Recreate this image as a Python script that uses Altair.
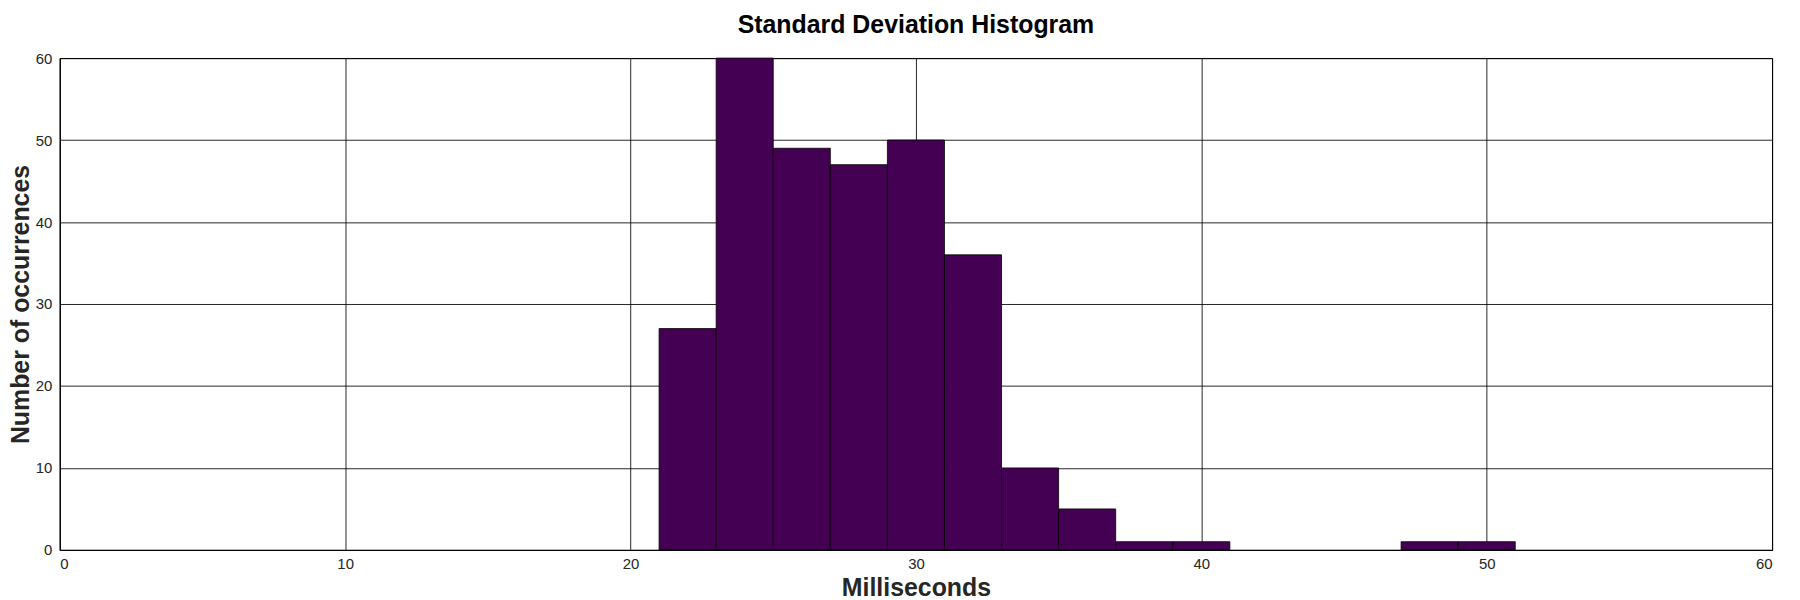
import altair as alt
import pandas as pd

bin_start = [21, 23, 25, 27, 29, 31, 33, 35, 37, 39, 47, 49]
bin_end = [23, 25, 27, 29, 31, 33, 35, 37, 39, 41, 49, 51]
counts = [27, 60, 49, 47, 50, 36, 10, 5, 1, 1, 1, 1]
ticks = [0, 10, 20, 30, 40, 50, 60]

df = pd.DataFrame({"start": bin_start, "end": bin_end, "count": counts})

chart = alt.Chart(df).mark_rect(
    color="#440154", stroke="#000000", strokeWidth=0.8
).encode(
    x=alt.X("start:Q", scale=alt.Scale(domain=[0, 60], nice=False, zero=False),
            axis=alt.Axis(values=ticks, title="Milliseconds")),
    x2="end:Q",
    y=alt.Y("count:Q", scale=alt.Scale(domain=[0, 60], nice=False),
            axis=alt.Axis(values=ticks, title="Number of occurrences")),
    y2=alt.datum(0),
).properties(
    width=1720,
    height=494,
    title=alt.TitleParams("Standard Deviation Histogram", fontSize=25, fontWeight="bold",
                          font="Liberation Sans", color="#000000", offset=13, anchor="middle"),
    autosize=alt.AutoSizeParams(type="none"),
    padding={"left": 52, "top": 49, "right": 20, "bottom": 49},
).configure_view(
    stroke="#000000", strokeWidth=1
).configure_axis(
    grid=True, gridColor="#000000", gridWidth=1, gridOpacity=0.85,
    domainColor="#000000", domainWidth=1,
    ticks=False,
    labelFont="Liberation Sans", labelFontSize=15, labelColor="#262626",
    titleFont="Liberation Sans", titleFontSize=25, titleFontWeight="bold", titleColor="#262626",
).configure_axisX(
    labelPadding=7, titlePadding=4
).configure_axisY(
    labelPadding=8, titlePadding=2
)

chart.save("out.html", embed_options={"renderer": "svg", "actions": False})
